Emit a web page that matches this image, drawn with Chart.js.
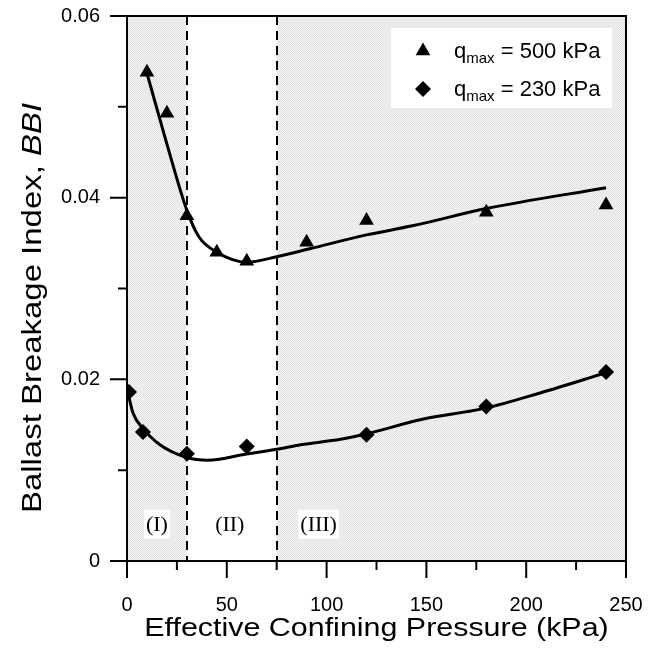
<!DOCTYPE html>
<html><head><meta charset="utf-8">
<script src="https://cdn.jsdelivr.net/npm/chart.js@4.4.1/dist/chart.umd.min.js"></script>
<style>html,body{margin:0;padding:0;background:#fff}#wrap{width:670px;height:649px;position:relative}</style>
</head><body><div id="wrap"><canvas id="c" width="670" height="649"></canvas></div>
<script>
// ---- data ----
const pressure500 = [10, 20, 30, 45, 60, 90, 120, 180, 240];
const bbi500      = [0.0538, 0.0493, 0.0380, 0.0340, 0.0330, 0.0351, 0.0375, 0.0384, 0.0392];
const pressure230 = [1, 8, 30, 60, 120, 180, 240];
const bbi230      = [0.0186, 0.0142, 0.0118, 0.0126, 0.0139, 0.0170, 0.0208];
// fitted trend curves
const fitP500 = [10, 20, 30, 36, 45, 60, 75, 92, 120, 143, 180, 240];
const fitB500 = [0.0537, 0.0459, 0.0386, 0.0357, 0.0340, 0.0329, 0.0335, 0.0344, 0.0359, 0.0369, 0.0388, 0.0411];
const fitP230 = [0.5, 3, 8, 16.5, 30, 40.5, 58, 75, 87, 107, 120, 148, 179, 207, 239.5];
const fitB230 = [0.0185, 0.0163, 0.0146, 0.0128, 0.0114, 0.0111, 0.0117, 0.0123, 0.0128, 0.0134, 0.0140, 0.0156, 0.0168, 0.0185, 0.0207];
// axes / annotations
const xMajorTicks = [0, 50, 100, 150, 200, 250];
const yMajorTicks = [0, 0.02, 0.04, 0.06];
const regionBounds = [0, 30, 75, 250];
const regionLabels = ['(I)', '(II)', '(III)'];
const regionLabelX = [15, 51.5, 96];
const regionLabelY = 0.004;
const seriesNames = ['q_max = 500 kPa', 'q_max = 230 kPa'];
const xTitle = 'Effective Confining Pressure (kPa)';
const yTitleMain = 'Ballast Breakage Index, ';
const yTitleItalic = 'BBI';

const SANS = "'Liberation Sans', Arial, sans-serif";
const SERIF = "'Liberation Serif', 'Times New Roman', serif";
const AREA = {left: 127, right: 626, top: 16, bottom: 561};

function pts(xs, ys) { return xs.map((x, i) => ({x: x, y: ys[i]})); }

// fine dotted grey pattern
const pc = document.createElement('canvas'); pc.width = 2; pc.height = 2;
const pctx = pc.getContext('2d');
pctx.fillStyle = '#f3f3f3'; pctx.fillRect(0, 0, 2, 2);
pctx.fillStyle = '#e2e2e2'; pctx.fillRect(0, 0, 1, 1); pctx.fillRect(1, 1, 1, 1);

const isMajorX = v => xMajorTicks.some(t => Math.abs(t - v) < 1e-9);
const isMajorY = v => yMajorTicks.some(t => Math.abs(t - v) < 1e-9);

const deco = {
  id: 'deco',
  beforeDatasetsDraw(chart) {
    const {ctx, chartArea: a, scales: {x, y}} = chart;
    ctx.save();
    const pat = ctx.createPattern(pc, 'repeat');
    for (let i = 0; i < regionBounds.length - 1; i++) {
      const x0 = x.getPixelForValue(regionBounds[i]);
      const x1 = x.getPixelForValue(regionBounds[i + 1]);
      ctx.fillStyle = (i === 1) ? '#ffffff' : pat;
      ctx.fillRect(x0, a.top, x1 - x0, a.bottom - a.top);
    }
    // region labels with white backing
    ctx.font = '22px ' + SERIF;
    ctx.textBaseline = 'middle'; ctx.textAlign = 'center';
    regionLabels.forEach((t, i) => {
      const px = x.getPixelForValue(regionLabelX[i]);
      const py = y.getPixelForValue(regionLabelY);
      const w = ctx.measureText(t).width + 4;
      ctx.fillStyle = '#ffffff';
      ctx.fillRect(px - w / 2, py - 15, w, 29);
      ctx.fillStyle = '#000000';
      ctx.fillText(t, px, py + 1);
    });
    // dashed boundaries
    ctx.strokeStyle = '#000'; ctx.lineWidth = 2; ctx.setLineDash([9, 6]);
    [regionBounds[1], regionBounds[2]].forEach(v => {
      const px = Math.round(x.getPixelForValue(v));
      ctx.beginPath(); ctx.moveTo(px, a.top); ctx.lineTo(px, a.bottom); ctx.stroke();
    });
    ctx.restore();
  },
  afterDraw(chart) {
    const {ctx, chartArea: a, scales: {x, y}} = chart;
    ctx.save();
    // frame
    ctx.strokeStyle = '#000'; ctx.lineWidth = 2;
    ctx.strokeRect(a.left, a.top, a.right - a.left, a.bottom - a.top);
    // tick marks
    ctx.beginPath();
    x.ticks.forEach(t => {
      const px = x.getPixelForValue(t.value);
      const len = isMajorX(t.value) ? 17 : 9;
      ctx.moveTo(px, a.bottom); ctx.lineTo(px, a.bottom + len);
    });
    y.ticks.forEach(t => {
      const py = y.getPixelForValue(t.value);
      const len = isMajorY(t.value) ? 17 : 9;
      ctx.moveTo(a.left, py); ctx.lineTo(a.left - len, py);
    });
    ctx.stroke();
    // legend
    const lx = 391, ly = 28, lw = 221, lh = 80;
    ctx.fillStyle = '#fff'; ctx.fillRect(lx, ly, lw, lh);
    const styles = [{pointStyle: 'triangle', radius: 8.5}, {pointStyle: 'rectRot', radius: 8}];
    const rowY = [51, 89];
    seriesNames.forEach((name, i) => {
      ctx.fillStyle = '#000';
      Chart.helpers.drawPoint(ctx, {pointStyle: styles[i].pointStyle, radius: styles[i].radius, rotation: 0, borderWidth: 0}, 423, rowY[i]);
      const parts = name.split(/_max/);
      ctx.textAlign = 'left'; ctx.textBaseline = 'alphabetic';
      let tx = 454;
      ctx.font = '22px ' + SANS;
      ctx.fillText(parts[0], tx, rowY[i] + 7);
      tx += ctx.measureText(parts[0]).width;
      ctx.font = '15px ' + SANS;
      ctx.fillText('max', tx, rowY[i] + 12);
      tx += ctx.measureText('max').width;
      ctx.font = '22px ' + SANS;
      ctx.fillText(parts[1], tx, rowY[i] + 7);
    });
    // axis titles (slightly wide lettering as in the reference)
    ctx.fillStyle = '#000';
    ctx.save();
    ctx.translate((a.left + a.right) / 2, 636);
    ctx.scale(1.17, 1);
    ctx.font = '26px ' + SANS; ctx.textAlign = 'center'; ctx.textBaseline = 'alphabetic';
    ctx.fillText(xTitle, 0, 0);
    ctx.restore();
    ctx.save();
    ctx.translate(41, 308);
    ctx.rotate(-Math.PI / 2);
    ctx.scale(1.22, 1);
    ctx.font = '27px ' + SANS;
    const w1 = ctx.measureText(yTitleMain).width;
    ctx.font = 'italic 27px ' + SANS;
    const w2 = ctx.measureText(yTitleItalic).width;
    const start = -(w1 + w2) / 2;
    ctx.textAlign = 'left';
    ctx.font = '27px ' + SANS;
    ctx.fillText(yTitleMain, start, 0);
    ctx.font = 'italic 27px ' + SANS;
    ctx.fillText(yTitleItalic, start + w1, 0);
    ctx.restore();
    ctx.restore();
  }
};

const chart = new Chart(document.getElementById('c'), {
  type: 'scatter',
  data: {
    datasets: [
      {data: pts(fitP500, fitB500), showLine: true, borderColor: '#000', borderWidth: 3, pointRadius: 0, cubicInterpolationMode: 'monotone', fill: false},
      {data: pts(fitP230, fitB230), showLine: true, borderColor: '#000', borderWidth: 3, pointRadius: 0, cubicInterpolationMode: 'monotone', fill: false},
      {data: pts(pressure500, bbi500), pointStyle: 'triangle', pointRadius: 8.5, backgroundColor: '#000', borderWidth: 0},
      {data: pts(pressure230, bbi230), pointStyle: 'rectRot', pointRadius: 8, backgroundColor: '#000', borderWidth: 0}
    ]
  },
  options: {
    responsive: false, animation: false, devicePixelRatio: 1,
    layout: {padding: {left: 0, right: 670 - AREA.right, top: AREA.top, bottom: 0}},
    plugins: {legend: {display: false}, tooltip: {enabled: false}},
    scales: {
      x: {
        type: 'linear', min: 0, max: 250,
        afterFit: s => { s.height = 649 - AREA.bottom; s.paddingLeft = 0; s.paddingRight = 0; },
        grid: {display: false, drawTicks: false},
        border: {display: true, color: '#000', width: 2},
        ticks: {stepSize: 25, autoSkip: false, maxRotation: 0, color: '#000', padding: 32,
          font: {family: SANS, size: 20},
          callback: v => isMajorX(v) ? String(v) : ''}
      },
      y: {
        type: 'linear', min: 0, max: 0.06,
        afterFit: s => { s.width = AREA.left; s.paddingTop = 0; s.paddingBottom = 0; },
        grid: {display: false, drawTicks: false},
        border: {display: true, color: '#000', width: 2},
        ticks: {stepSize: 0.01, autoSkip: false, color: '#000', padding: 27,
          font: {family: SANS, size: 20},
          callback: v => isMajorY(v) ? (v === 0 ? '0' : v.toFixed(2)) : ''}
      }
    }
  },
  plugins: [deco]
});
</script>
</body></html>
